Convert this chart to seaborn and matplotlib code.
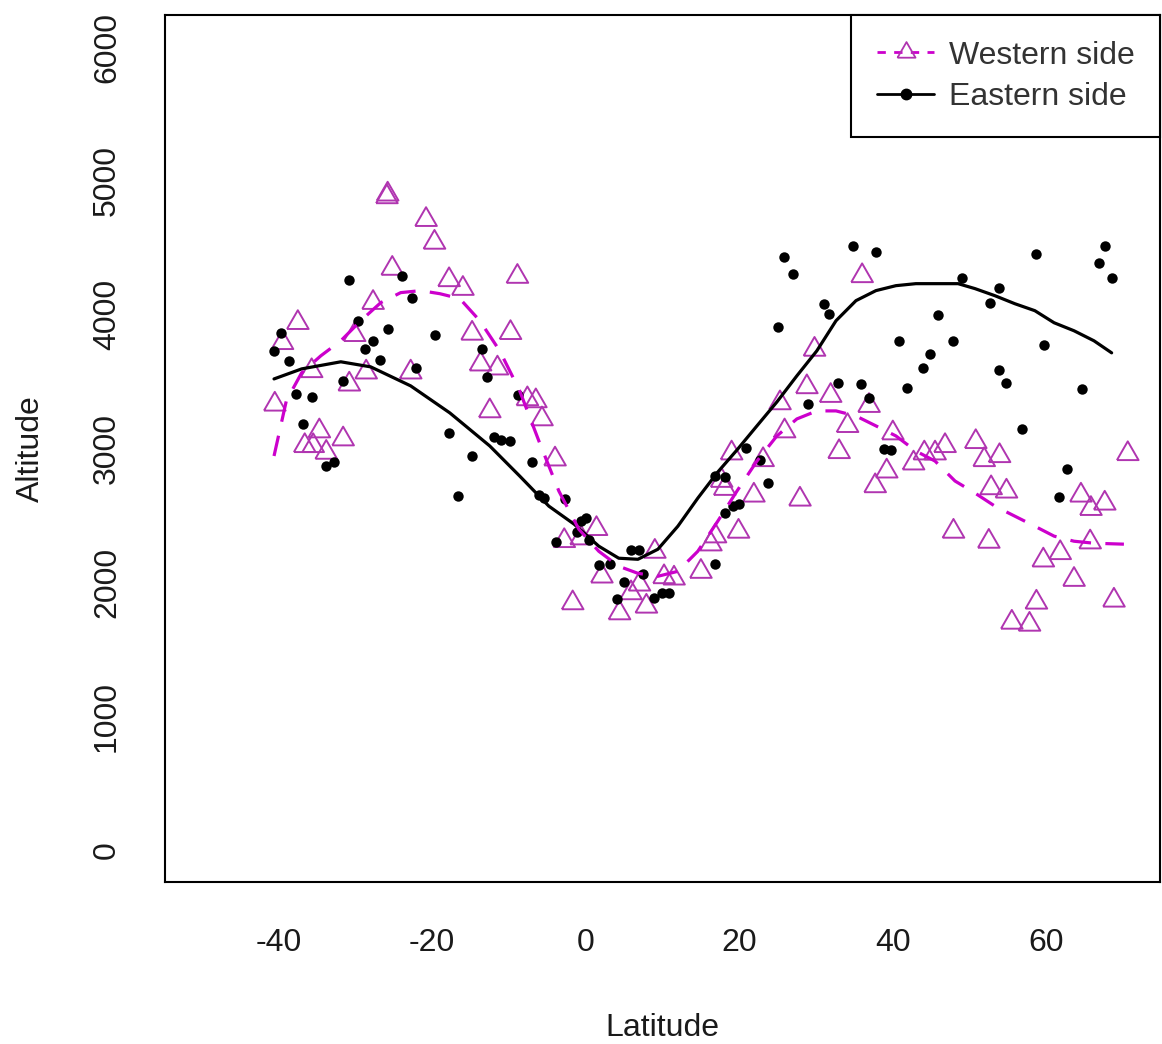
import numpy as np
import pandas as pd
import matplotlib
matplotlib.use("Agg")
import matplotlib.pyplot as plt
from matplotlib.lines import Line2D
import seaborn as sns

# ---------------- data ----------------
west_lat = [-40.5, -39.5, -37.5, -36.6, -35.7, -35.5, -34.7, -33.8, -31.6, -30.8,
            -30.1, -28.6, -27.7, -25.8, -25.9, -25.2, -22.8, -20.8, -19.7, -17.8,
            -16.0, -14.8, -13.7, -12.5, -11.5, -9.8, -8.9, -7.6, -6.5, -5.7,
            -4.0, -2.8, -1.7, -0.6, 1.4, 2.1, 4.4, 5.9, 7.0, 7.9,
            9.0, 10.2, 11.5, 15.0, 16.3, 16.9, 17.7, 18.1, 19.0, 19.9,
            21.9, 23.1, 25.3, 25.9, 27.9, 28.8, 29.8, 31.9, 33.0, 34.1,
            36.0, 36.9, 37.7, 39.2, 40.0, 42.7, 44.1, 45.5, 46.8, 47.9,
            50.8, 51.9, 52.8, 52.5, 53.9, 54.8, 55.5, 57.8, 58.7, 59.6,
            61.8, 63.6, 64.5, 65.7, 65.8, 67.6, 68.8, 70.6]
west_alt = [3330, 3790, 3940, 3020, 3580, 3020, 3130, 2970, 3070, 3480,
            3850, 3570, 4090, 4900, 4880, 4345, 3570, 4710, 4540, 4260,
            4195, 3860, 3630, 3280, 3600, 3865, 4285, 3370, 3355, 3220,
            2920, 2310, 1845, 2330, 2400, 2045, 1770, 1920, 1985, 1820,
            2230, 2040, 2030, 2080, 2285, 2345, 2760, 2700, 2965, 2380,
            2650, 2915, 3340, 3130, 2620, 3460, 3740, 3395, 2975, 3170,
            4290, 3320, 2720, 2830, 3115, 2890, 2965, 2965, 3020, 2380,
            3050, 2915, 2705, 2305, 2945, 2680, 1700, 1685, 1850, 2165,
            2220, 2020, 2650, 2300, 2550, 2590, 1865, 2960]

east_lat = [-40.6, -39.7, -38.7, -37.7, -36.8, -35.6, -33.8, -32.8, -31.6, -30.8,
            -29.7, -28.8, -27.7, -26.8, -25.7, -23.9, -22.6, -22.1, -19.6, -17.8,
            -16.6, -14.8, -13.5, -12.9, -12.0, -11.0, -9.8, -8.8, -7.0, -6.1,
            -5.4, -3.9, -2.7, -1.2, -0.6, 0.1, 0.4, 1.7, 3.2, 4.1,
            5.0, 5.9, 7.0, 7.5, 8.9, 9.9, 10.8, 16.9, 16.9, 18.1,
            18.1, 19.2, 19.9, 20.9, 22.7, 23.7, 25.0, 25.8, 27.0, 28.9,
            31.0, 31.7, 32.9, 34.8, 35.9, 36.9, 37.8, 38.8, 39.7, 40.8,
            41.9, 43.9, 44.8, 45.9, 47.9, 49.0, 52.6, 53.8, 53.8, 54.8,
            56.8, 58.7, 59.7, 61.7, 62.7, 64.6, 66.8, 67.7, 68.6]
east_alt = [3730, 3860, 3655, 3410, 3185, 3385, 2870, 2900, 3505, 4260,
            3955, 3745, 3800, 3665, 3890, 4290, 4125, 3605, 3845, 3115,
            2645, 2945, 3740, 3535, 3085, 3065, 3055, 3400, 2900, 2650,
            2630, 2300, 2620, 2375, 2455, 2480, 2315, 2130, 2140, 1875,
            2005, 2240, 2245, 2060, 1880, 1920, 1920, 2135, 2795, 2785,
            2515, 2570, 2585, 3005, 2915, 2740, 3910, 4435, 4305, 3335,
            4080, 4005, 3490, 4510, 3485, 3380, 4465, 2995, 2990, 3805,
            3455, 3605, 3710, 3995, 3805, 4275, 4090, 4200, 3590, 3490,
            3145, 4450, 3775, 2635, 2845, 3445, 4390, 4515, 4275]

# smoothed curves as drawn in the reference
west_curve_lat = [-40.6, -39.0, -37.0, -34.5, -31.9, -29.3, -26.7, -24.1, -21.5, -19.0,
                  -16.4, -13.8, -11.2, -8.6, -6.1, -3.5, -0.9, 1.7, 4.3, 6.8,
                  9.4, 12.0, 14.6, 17.2, 19.7, 22.3, 24.9, 27.5, 30.1, 32.6,
                  35.2, 37.8, 40.4, 43.0, 45.5, 48.1, 50.7, 53.3, 55.9, 58.5,
                  61.0, 63.6, 66.2, 70.1]
west_curve_alt = [2944, 3356, 3566, 3693, 3805, 3955, 4090, 4165, 4180, 4157,
                  4120, 3955, 3730, 3431, 3056, 2682, 2397, 2232, 2120, 2067,
                  2045, 2082, 2232, 2457, 2682, 2906, 3094, 3221, 3281, 3281,
                  3243, 3169, 3094, 2981, 2906, 2757, 2667, 2569, 2494, 2419,
                  2345, 2307, 2292, 2285]

east_curve_lat = [-40.6, -37.0, -31.9, -28.0, -22.8, -17.7, -12.5, -8.6, -4.8, -1.5,
                  1.7, 4.3, 6.8, 9.4, 12.0, 14.6, 17.2, 19.7, 22.3, 24.9,
                  27.5, 30.1, 32.6, 35.2, 37.8, 40.4, 43.0, 48.5, 50.7, 53.3,
                  55.9, 58.5, 61.0, 63.6, 66.2, 68.5]
east_curve_alt = [3520, 3595, 3648, 3610, 3468, 3266, 3019, 2794, 2569, 2434,
                  2270, 2180, 2172, 2247, 2419, 2629, 2824, 2989, 3169, 3348,
                  3543, 3730, 3955, 4105, 4180, 4217, 4232, 4232, 4195, 4142,
                  4082, 4030, 3940, 3880, 3805, 3715]

x_ticks = [-40, -20, 0, 20, 40, 60]
y_ticks = [0, 1000, 2000, 3000, 4000, 5000, 6000]
series_labels = ["Western side", "Eastern side"]

# ---------------- style ----------------
sns.set_theme(style="white")
plt.rcParams['font.family'] = ['Liberation Sans', 'DejaVu Sans']
MAG = "#CC00CC"
TRI_EDGE = "#B035B0"
TXT = "#1a1a1a"

# equilateral triangle marker (like R pch=2)
tri = [(-1.0, -0.577), (1.0, -0.577), (0.0, 1.155), (-1.0, -0.577)]

fig = plt.figure(figsize=(11.62, 10.44), dpi=100)
ax = fig.add_axes([165 / 1162, 1 - 882 / 1044, (1160 - 165) / 1162, (882 - 15) / 1044])

west_pts = pd.DataFrame({"lat": west_lat, "alt": west_alt})
east_pts = pd.DataFrame({"lat": east_lat, "alt": east_alt})
west_fit = pd.DataFrame({"lat": west_curve_lat, "alt": west_curve_alt})
east_fit = pd.DataFrame({"lat": east_curve_lat, "alt": east_curve_alt})

sns.scatterplot(data=west_pts, x="lat", y="alt", ax=ax, marker=tri, s=18 ** 2,
                facecolor="none", edgecolor=TRI_EDGE, linewidth=1.4, legend=False, zorder=3)
sns.scatterplot(data=east_pts, x="lat", y="alt", ax=ax, marker="o", s=7.5 ** 2,
                color="black", edgecolor="black", linewidth=0, legend=False, zorder=4)
sns.lineplot(data=east_fit, x="lat", y="alt", ax=ax, color="black", linewidth=2.3,
             estimator=None, sort=False, legend=False, zorder=5)
sns.lineplot(data=west_fit, x="lat", y="alt", ax=ax, color=MAG, linewidth=2.3,
             estimator=None, sort=False, legend=False, zorder=6, dashes=False)
ax.lines[-1].set_dashes([6.5, 4.5])

ax.set_xlim(-54.8, 74.8)
ax.set_ylim(-240, 6240)
ax.set_xticks(x_ticks)
ax.set_yticks(y_ticks)
ax.set_xticklabels([str(v) for v in x_ticks])
ax.set_yticklabels([str(v) for v in y_ticks], rotation=90, va="center")

for sp in ax.spines.values():
    sp.set_visible(True)
    sp.set_color("black")
    sp.set_linewidth(1.5)

ax.tick_params(axis="both", direction="out", length=11, width=1.3, color="black",
               labelsize=23, labelcolor=TXT)
ax.tick_params(axis="x", pad=22)
ax.tick_params(axis="y", pad=20)
ax.set_xlabel("Latitude", fontsize=23, color=TXT, labelpad=40)
ax.set_ylabel("Altitude", fontsize=23, color=TXT, labelpad=33)

handles = [
    Line2D([0], [0], color=MAG, linewidth=2.0, dashes=[3, 3], marker=tri,
           markersize=15, markerfacecolor="none", markeredgecolor=TRI_EDGE, markeredgewidth=1.3),
    Line2D([0], [0], color="black", linewidth=2.0, marker="o", markersize=7.5,
           markerfacecolor="black", markeredgecolor="black"),
]
leg = ax.legend(handles, series_labels, loc="upper right", borderaxespad=0,
                fontsize=23, frameon=True, fancybox=False, framealpha=1,
                edgecolor="black", handlelength=1.8, handletextpad=0.45,
                labelspacing=0.35, borderpad=0.8)
leg.get_frame().set_linewidth(1.5)
for t in leg.get_texts():
    t.set_color("#333333")

fig.savefig("out.png", dpi=100)
